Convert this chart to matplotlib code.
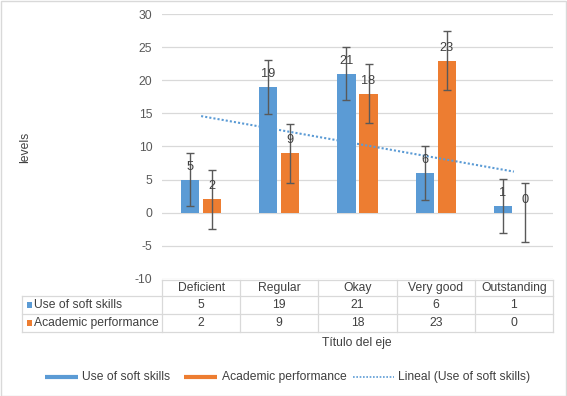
import numpy as np
import matplotlib
matplotlib.use("Agg")
import matplotlib.pyplot as plt
from matplotlib.lines import Line2D
from matplotlib.patches import Rectangle
import matplotlib.transforms as mtransforms

categories = ["Deficient", "Regular", "Okay", "Very good", "Outstanding"]
soft_skills = [5, 19, 21, 6, 1]
academic = [2, 9, 18, 23, 0]
soft_err = [4.02, 4.02, 4.02, 4.02, 4.02]
acad_err = [4.46, 4.46, 4.46, 4.46, 4.46]
series_names = ["Use of soft skills", "Academic performance"]
trend_name = "Lineal (Use of soft skills)"
y_ticks = [-10, -5, 0, 5, 10, 15, 20, 25, 30]
y_label = "levels"
x_title = "Título del eje"

BLUE = "#5B9BD5"
ORANGE = "#ED7D31"
GRID = "#D9D9D9"
TXT = "#404040"
TICK = "#595959"
FS = 8.7

plt.rcParams['font.family'] = ['Liberation Sans', 'DejaVu Sans']

W, H = 567, 396
fig = plt.figure(figsize=(W / 100, H / 100), dpi=100)

def fx(px):
    return px / W

def fy(py):
    return 1 - py / H

ax_l, ax_r, ax_t, ax_b = 162, 553, 14.3, 278.7
ax = fig.add_axes([fx(ax_l), fy(ax_b), fx(ax_r - ax_l), (ax_b - ax_t) / H])

n = len(categories)
x = np.arange(n)
bw = 0.232
off = 0.141

ax.bar(x - off, soft_skills, bw, color=BLUE, zorder=2)
ax.bar(x + off, academic, bw, color=ORANGE, zorder=2)
ax.errorbar(x - off, soft_skills, yerr=soft_err, fmt="none", ecolor="#595959",
            elinewidth=1.0, capsize=2.6, capthick=1.0, zorder=3)
ax.errorbar(x + off, academic, yerr=acad_err, fmt="none", ecolor="#595959",
            elinewidth=1.0, capsize=2.6, capthick=1.0, zorder=3)

for xi, v in zip(x - off, soft_skills):
    ax.annotate(str(v), (xi, v), xytext=(0, 13), textcoords="offset pixels",
                ha="center", va="center", fontsize=FS + 0.5, color=TXT, zorder=4)
for xi, v in zip(x + off, academic):
    ax.annotate(str(v), (xi, v), xytext=(0, 13), textcoords="offset pixels",
                ha="center", va="center", fontsize=FS + 0.5, color=TXT, zorder=4)

# linear trendline of soft skills
coef = np.polyfit(x, soft_skills, 1)
tx = np.array([x[0], x[-1]])
ax.plot(tx, np.polyval(coef, tx), color=BLUE, linestyle=(0, (1, 1)), linewidth=1.5, zorder=3)

ax.set_xlim(-0.5, n - 0.5)
ax.set_ylim(y_ticks[0], y_ticks[-1])
ax.set_yticks(y_ticks)
ax.set_yticklabels([str(t) for t in y_ticks], fontsize=FS, color=TICK)
ax.set_xticks([])
ax.tick_params(axis="y", length=0, pad=7)
ax.grid(axis="y", color=GRID, linewidth=0.9, zorder=0)
for s in ax.spines.values():
    s.set_visible(False)

# data table under the axes
trans = mtransforms.blended_transform_factory(ax.transData, fig.transFigure)
row_y = [280, 296, 314, 332]
lab_left = 22
for i, py in enumerate(row_y):
    if i == 0:
        ax.plot([-0.5, n - 0.5], [fy(py)] * 2, transform=trans, color=GRID, lw=0.9, clip_on=False)
    else:
        fig.add_artist(Line2D([fx(lab_left), fx(ax_r)], [fy(py)] * 2, color=GRID, lw=0.9))
for b in np.arange(n + 1) - 0.5:
    ax.plot([b, b], [fy(row_y[0]), fy(row_y[-1])], transform=trans, color=GRID, lw=0.9, clip_on=False)
fig.add_artist(Line2D([fx(lab_left)] * 2, [fy(row_y[1]), fy(row_y[-1])], color=GRID, lw=0.9))

for xi, c in zip(x, categories):
    ax.text(xi, fy((row_y[0] + row_y[1]) / 2), c, transform=trans, ha="center", va="center",
            fontsize=FS, color=TXT)
for r, (vals, col, name) in enumerate(zip([soft_skills, academic], [BLUE, ORANGE], series_names)):
    cy = (row_y[r + 1] + row_y[r + 2]) / 2
    for xi, v in zip(x, vals):
        ax.text(xi, fy(cy), str(v), transform=trans, ha="center", va="center",
                fontsize=FS, color=TXT)
    fig.add_artist(Rectangle((fx(27), fy(cy + 2.6)), fx(5.2), 5.2 / H, color=col, lw=0))
    fig.text(fx(34.5), fy(cy), name, ha="left", va="center", fontsize=FS, color=TXT)

fig.text(fx(357), fy(343), x_title, ha="center", va="center", fontsize=FS, color=TXT)
fig.text(fx(25), fy(147), y_label, ha="center", va="center", rotation=90, fontsize=FS, color=TXT)

# legend
ly = 377
fig.add_artist(Line2D([fx(45), fx(78)], [fy(ly)] * 2, color=BLUE, lw=3.0, solid_capstyle="butt"))
fig.text(fx(82.5), fy(ly), series_names[0], ha="left", va="center", fontsize=FS, color=TXT)
fig.add_artist(Line2D([fx(184), fx(217)], [fy(ly)] * 2, color=ORANGE, lw=3.0, solid_capstyle="butt"))
fig.text(fx(221.5), fy(ly), series_names[1], ha="left", va="center", fontsize=FS, color=TXT)
fig.add_artist(Line2D([fx(353), fx(394)], [fy(ly)] * 2, color=BLUE, lw=1.2, linestyle=(0, (1, 1))))
fig.text(fx(398), fy(ly), trend_name, ha="left", va="center", fontsize=FS, color=TXT)

# chart border
fig.add_artist(Rectangle((0.5 / W, 0.5 / H), 1 - 1.5 / W, 1 - 1.5 / H, fill=False,
                         edgecolor=GRID, lw=1.0))

fig.savefig("out.png", dpi=100)
